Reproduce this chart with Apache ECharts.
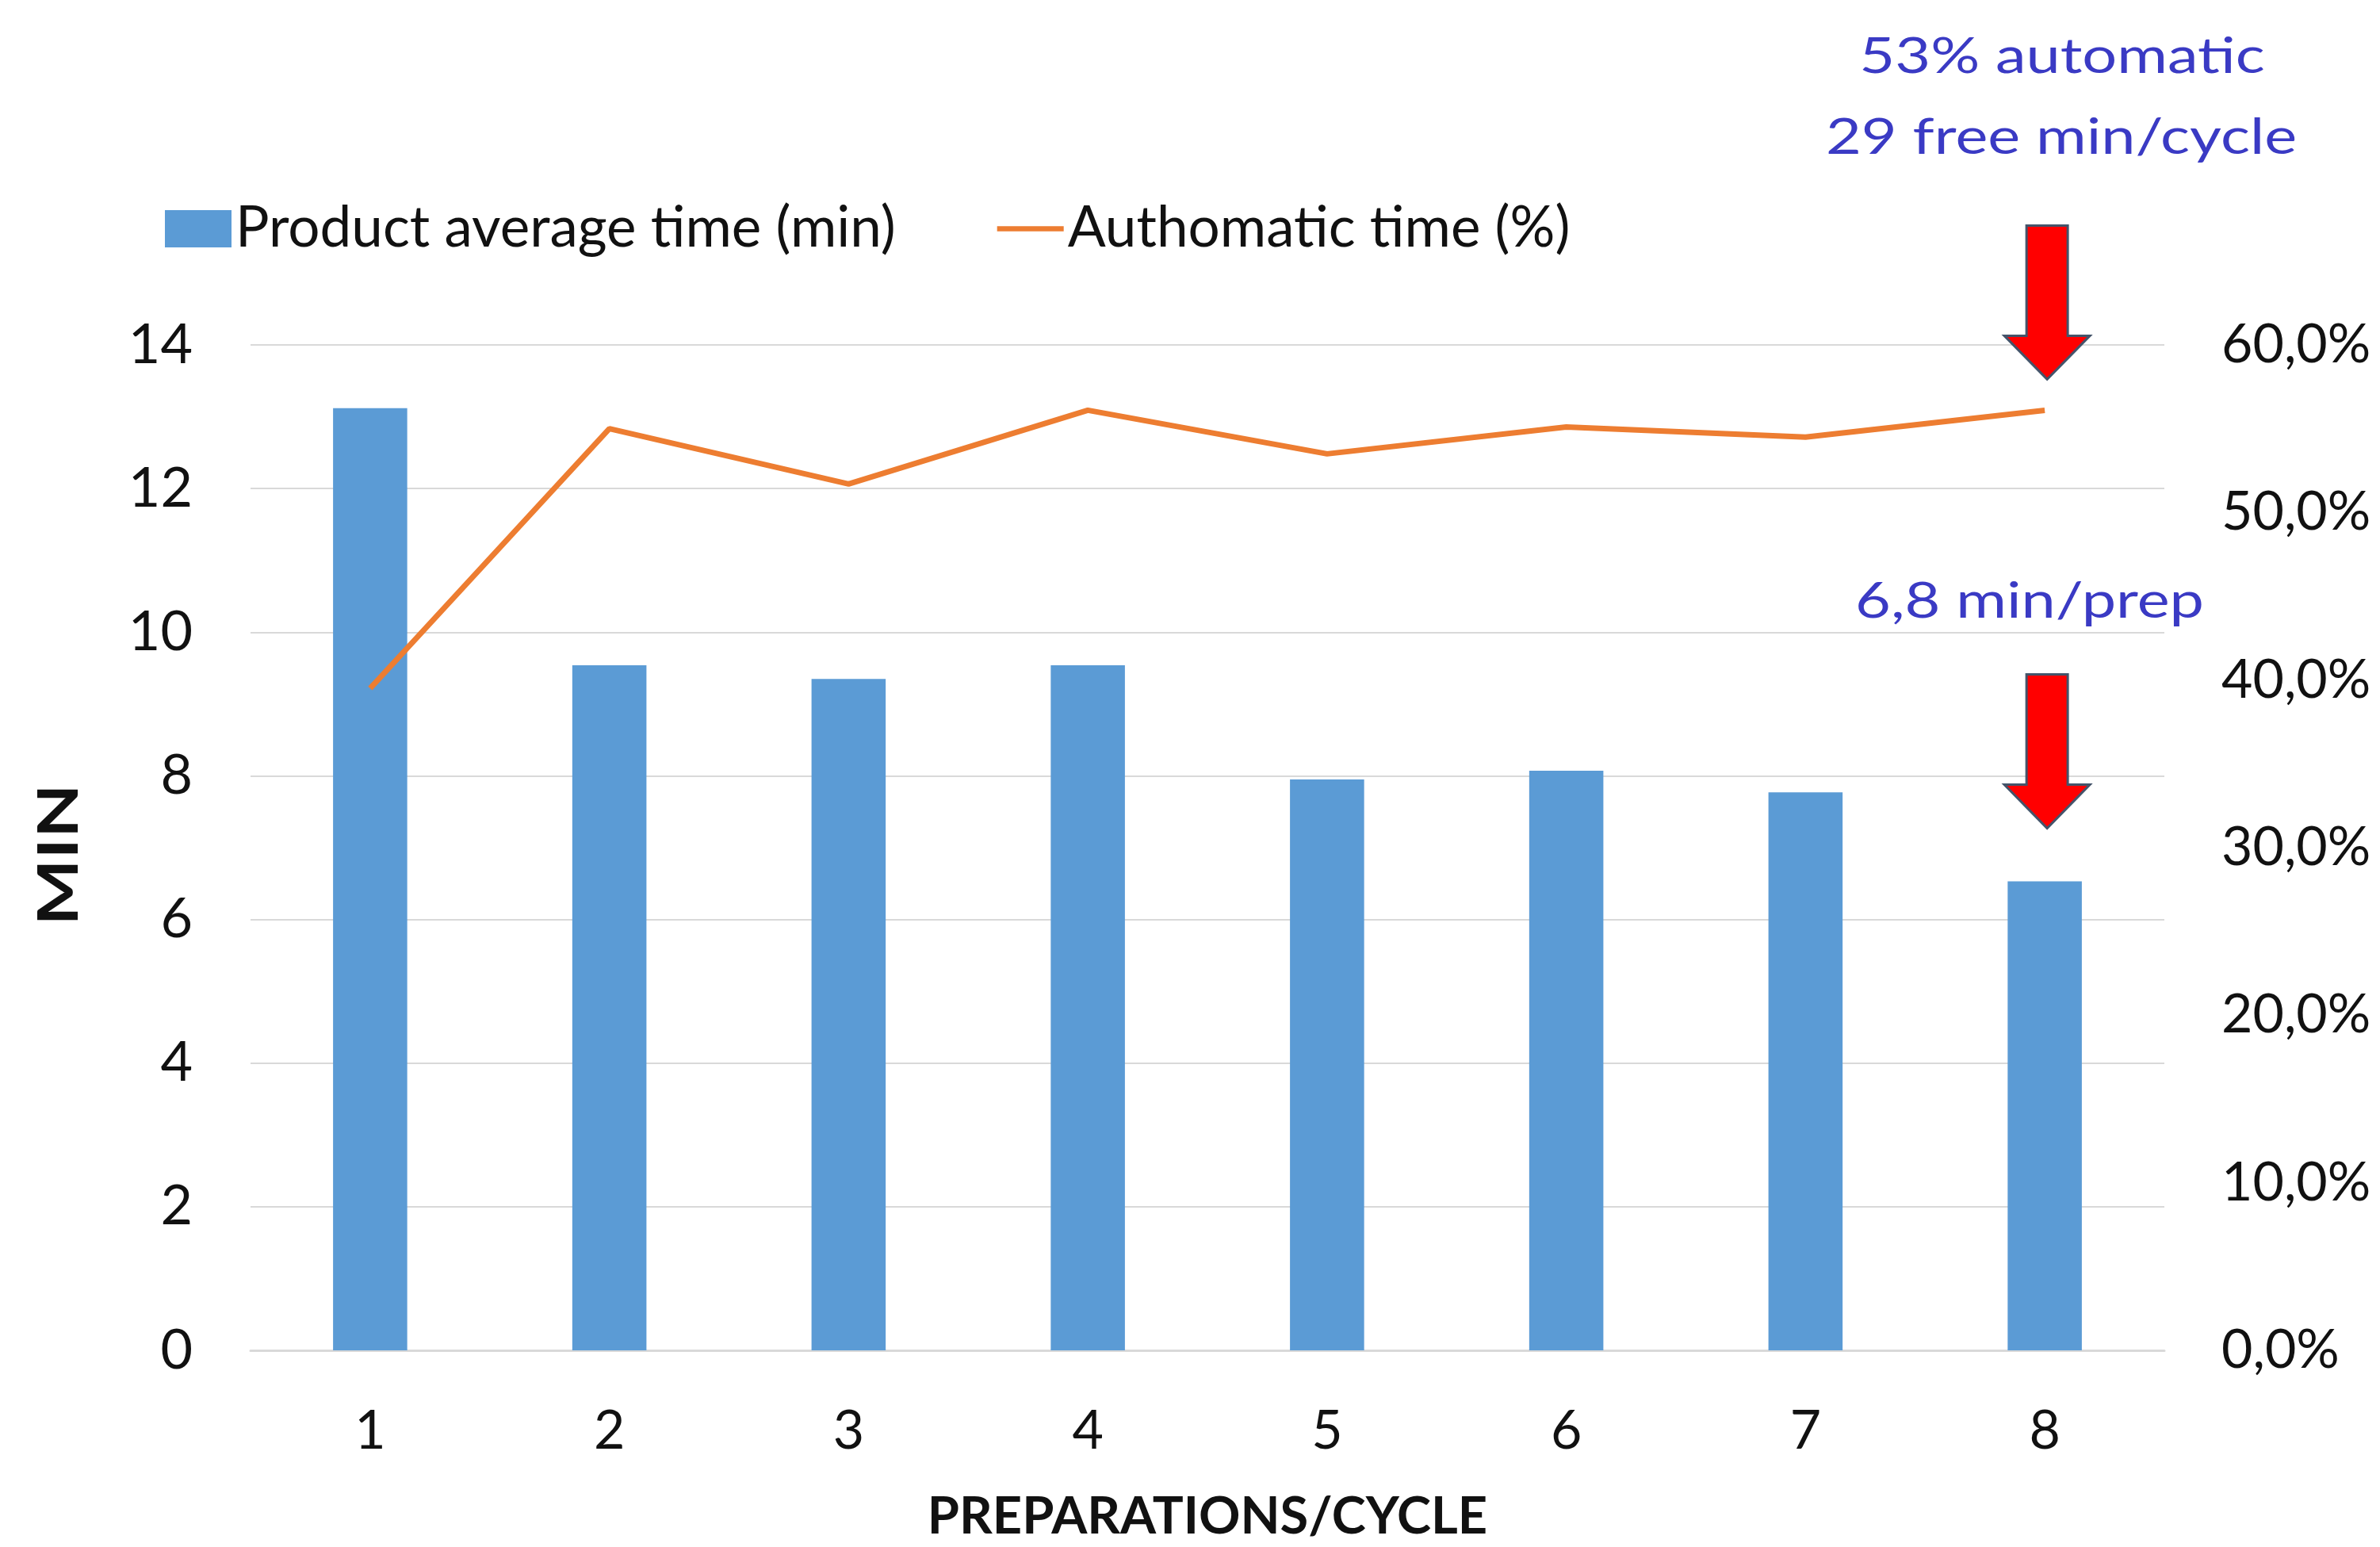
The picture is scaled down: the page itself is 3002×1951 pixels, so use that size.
<!DOCTYPE html>
<html>
<head>
<meta charset="utf-8">
<script src="https://cdn.jsdelivr.net/npm/echarts@6/dist/echarts.min.js"></script>
<style>
  html, body { margin: 0; padding: 0; background: #ffffff; overflow: hidden; }
  #chart { width: 3002px; height: 1951px; }
</style>
</head>
<body>
<div id="chart"></div>
<script>
// Preparations per cycle (x axis)
const categories = ['1', '2', '3', '4', '5', '6', '7', '8'];
// Product average time per preparation, minutes
const avgTime = [13.12, 9.54, 9.35, 9.54, 7.95, 8.07, 7.77, 6.53];
// Share of automatic time in the cycle
const autoShare = [0.395, 0.550, 0.517, 0.561, 0.535, 0.551, 0.545, 0.561];
// Series names
const seriesNames = ['Product average time (min)', 'Authomatic time (%)'];
// Axis titles
const xTitle = 'PREPARATIONS/CYCLE';
const yTitle = 'MIN';
// Callout texts
const topNote = ['53% automatic', '29 free min/cycle'];
const barNote = '6,8 min/prep';

const FONT = 'Lato';
const BLUE = '#5B9BD5';
const ORANGE = '#ED7D31';
const NOTE = '#3A3AC4';
const GRID = '#D9D9D9';
const INK = '#111111';

const chart = echarts.init(document.getElementById('chart'), null, { renderer: 'canvas' });

const option = {
  backgroundColor: '#ffffff',
  animation: false,
  textStyle: { fontFamily: FONT },
  grid: { left: 316, right: 272, top: 435, bottom: 238, containLabel: false },
  legend: {
    left: 203,
    top: 248,
    itemWidth: 84,
    itemHeight: 47,
    itemGap: 128,
    textStyle: { fontFamily: FONT, fontSize: 71, color: INK },
    data: [
      { name: seriesNames[0], icon: 'rect' },
      { name: seriesNames[1], icon: 'path://M0,0L100,0L100,8L0,8Z' }
    ]
  },
  xAxis: {
    type: 'category',
    data: categories,
    boundaryGap: true,
    axisLine: { lineStyle: { color: GRID, width: 3 } },
    axisTick: { show: false },
    axisLabel: { fontFamily: FONT, fontSize: 68, color: INK, margin: 68 },
    name: xTitle,
    nameLocation: 'middle',
    nameGap: 178,
    nameTextStyle: { fontFamily: FONT, fontSize: 65, fontWeight: 'bold', color: INK }
  },
  yAxis: [
    {
      type: 'value',
      min: 0,
      max: 14,
      interval: 2,
      axisLine: { show: false },
      axisTick: { show: false },
      splitLine: { lineStyle: { color: GRID, width: 2 } },
      axisLabel: { fontFamily: FONT, fontSize: 70, color: INK, margin: 73 }
    },
    {
      type: 'value',
      min: 0,
      max: 0.6,
      interval: 0.1,
      position: 'right',
      axisLine: { show: false },
      axisTick: { show: false },
      splitLine: { show: false },
      axisLabel: {
        fontFamily: FONT, fontSize: 68, color: INK, margin: 72,
        formatter: v => (v * 100).toFixed(1).replace('.', ',') + '%'
      }
    }
  ],
  series: [
    {
      name: seriesNames[0],
      type: 'bar',
      data: avgTime,
      barWidth: '31%',
      itemStyle: { color: BLUE }
    },
    {
      name: seriesNames[1],
      type: 'line',
      yAxisIndex: 1,
      data: autoShare,
      symbol: 'none',
      lineStyle: { color: ORANGE, width: 7 },
      itemStyle: { color: ORANGE }
    }
  ]
};

chart.setOption(option);

// Down arrow above a category column, tip at pixel y
function downArrow(cx, tipY) {
  const top = tipY - 194, head = tipY - 55;
  return {
    type: 'polygon',
    z: 100,
    shape: {
      points: [
        [cx - 26, top], [cx + 26, top], [cx + 26, head], [cx + 54, head],
        [cx, tipY], [cx - 54, head], [cx - 26, head]
      ]
    },
    style: { fill: '#FF0000', stroke: '#44546A', lineWidth: 3 }
  };
}

// Blue callout text, slightly widened
function note(text, x, y) {
  return {
    type: 'text', z: 100, x: x, y: y, scaleX: 1.27,
    style: { text: text, fill: NOTE, font: '61px ' + FONT, align: 'center', verticalAlign: 'middle' }
  };
}

const last = categories.length - 1;
const lastX = chart.convertToPixel({ xAxisIndex: 0 }, categories[last]);
const lineY = chart.convertToPixel({ yAxisIndex: 1 }, autoShare[last]);
const barY = chart.convertToPixel({ yAxisIndex: 0 }, avgTime[last]);
const plotMidY = (chart.convertToPixel({ yAxisIndex: 0 }, 0) + chart.convertToPixel({ yAxisIndex: 0 }, 14)) / 2;

chart.setOption({
  graphic: [
    downArrow(lastX + 3, lineY - 39),
    downArrow(lastX + 3, barY - 67),
    note(topNote[0], 2601, 72),
    note(topNote[1], 2600, 174),
    note(barNote, 2560, 759),
    {
      type: 'text', z: 100, x: 75, y: plotMidY + 9, rotation: Math.PI / 2, scaleX: 1.27,
      style: { text: yTitle, fill: INK, font: 'bold 70px ' + FONT, align: 'center', verticalAlign: 'middle' }
    }
  ]
});
</script>
</body>
</html>
